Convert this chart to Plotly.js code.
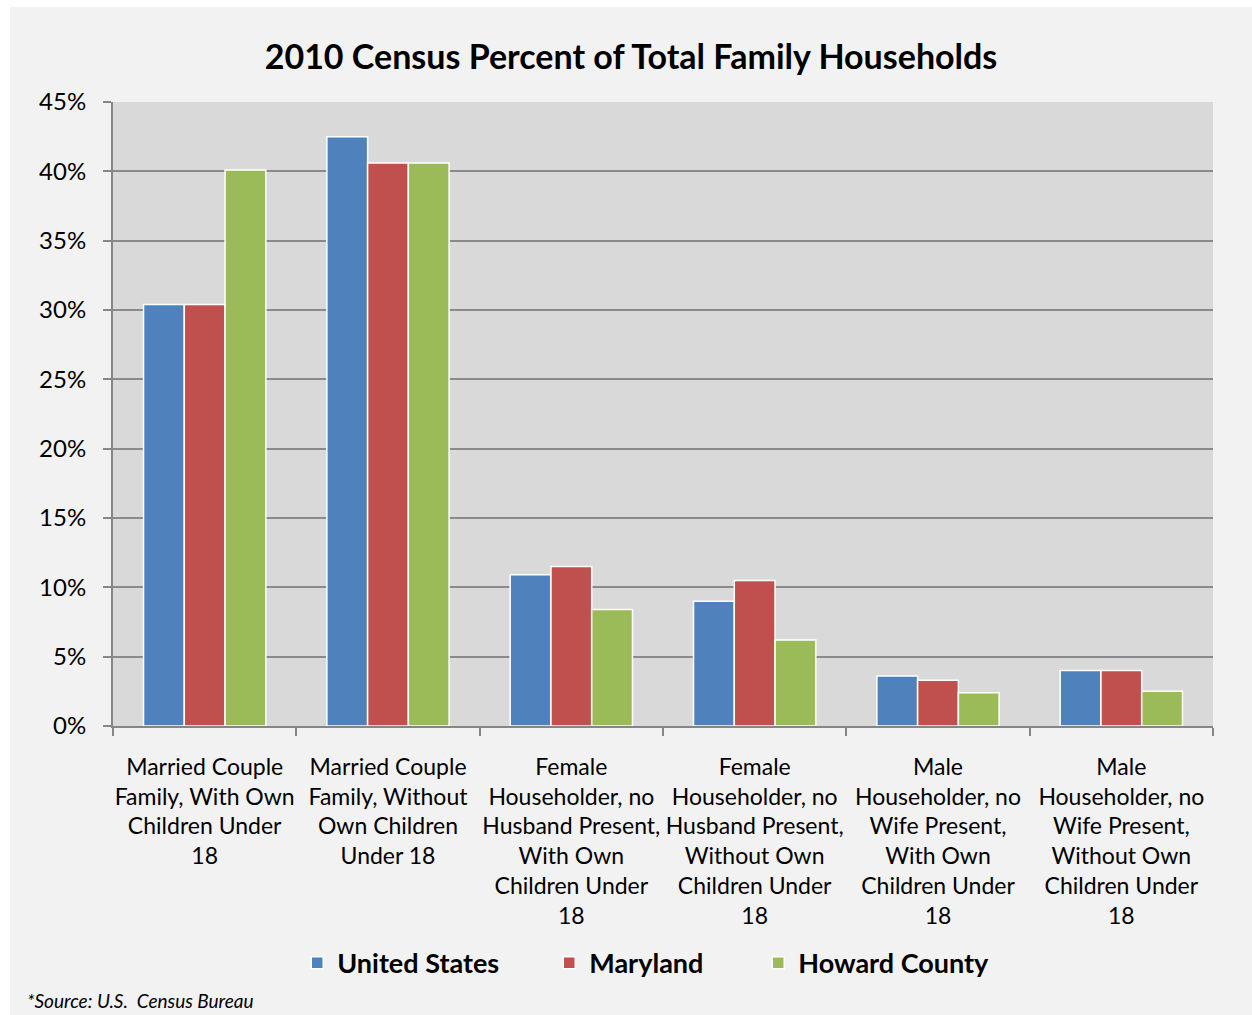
<!DOCTYPE html>
<html>
<head>
<meta charset="utf-8">
<script src="https://cdn.plot.ly/plotly-3.0.1.min.js"></script>
<style>
html,body{margin:0;padding:0;background:#ffffff;}
#chart{position:absolute;left:10px;top:7px;width:1242px;height:1008px;}
</style>
</head>
<body>
<div id="chart"></div>
<script>
const categories = [
  "Married Couple<br>Family, With Own<br>Children Under<br>18",
  "Married Couple<br>Family, Without<br>Own Children<br>Under 18",
  "Female<br>Householder, no<br>Husband Present,<br>With Own<br>Children Under<br>18",
  "Female<br>Householder, no<br>Husband Present,<br>Without Own<br>Children Under<br>18",
  "Male<br>Householder, no<br>Wife Present,<br>With Own<br>Children Under<br>18",
  "Male<br>Householder, no<br>Wife Present,<br>Without Own<br>Children Under<br>18"
];
const seriesNames = ["United States", "Maryland", "Howard County"];
const unitedStates = [30.4, 42.5, 10.9, 9.0, 3.6, 4.0];
const maryland = [30.4, 40.6, 11.5, 10.5, 3.3, 4.0];
const howardCounty = [40.1, 40.6, 8.4, 6.2, 2.4, 2.5];
const colors = ["#4f81bd", "#c0504d", "#9bbb59"];
const legendWidths = [207, 164, 190];

const allValues = [unitedStates, maryland, howardCounty];
const traces = allValues.map((vals, i) => ({
  type: "bar",
  name: seriesNames[i],
  x: categories,
  y: vals,
  legendwidth: legendWidths[i],
  marker: {color: colors[i], line: {color: "#ffffff", width: 1.5}},
  hoverinfo: "x+y"
}));

const font = "Lato, 'Open Sans', sans-serif";
const layout = {
  width: 1242,
  height: 1008,
  paper_bgcolor: "#f2f2f2",
  plot_bgcolor: "#d9d9d9",
  margin: {l: 103, r: 39, t: 95, b: 289},
  barmode: "group",
  bargap: 0.333,
  bargroupgap: 0,
  font: {family: font, color: "#000000", size: 21},
  title: {
    text: "<b>2010 Census Percent of Total Family Households</b>",
    font: {family: font, size: 34, color: "#000000"},
    x: 0.5, xanchor: "center", y: 0.95, yanchor: "middle"
  },
  xaxis: {
    type: "category",
    showgrid: false,
    showline: true,
    linecolor: "#868686",
    linewidth: 2,
    ticks: "outside",
    tickson: "boundaries",
    ticklen: 8,
    tickwidth: 2,
    tickcolor: "#868686",
    tickangle: 0,
    ticklabelstandoff: 19,
    tickfont: {family: font, size: 23, color: "#000000"},
    fixedrange: true
  },
  yaxis: {
    range: [0, 45],
    dtick: 5,
    ticksuffix: "%",
    showgrid: true,
    gridcolor: "#8a8a8a",
    gridwidth: 2,
    showline: true,
    linecolor: "#868686",
    linewidth: 2,
    ticks: "outside",
    ticklen: 8,
    tickwidth: 2,
    tickcolor: "#868686",
    ticklabelstandoff: 12,
    zeroline: false,
    tickfont: {family: font, size: 24, color: "#000000"},
    fixedrange: true
  },
  legend: {
    orientation: "h",
    x: 0.1675, xanchor: "left",
    y: -0.380, yanchor: "middle",
    font: {family: font, size: 27, color: "#000000", weight: "bold"},
    traceorder: "normal",
    bgcolor: "rgba(0,0,0,0)"
  },
  annotations: [{
    text: "<i>*Source: U.S.  Census Bureau</i>",
    xref: "paper", yref: "paper",
    x: -0.08, xanchor: "left",
    y: -0.4407, yanchor: "middle",
    showarrow: false,
    font: {family: font, size: 19, color: "#000000"}
  }]
};

Plotly.newPlot("chart", traces, layout, {displayModeBar: false});
</script>
</body>
</html>
